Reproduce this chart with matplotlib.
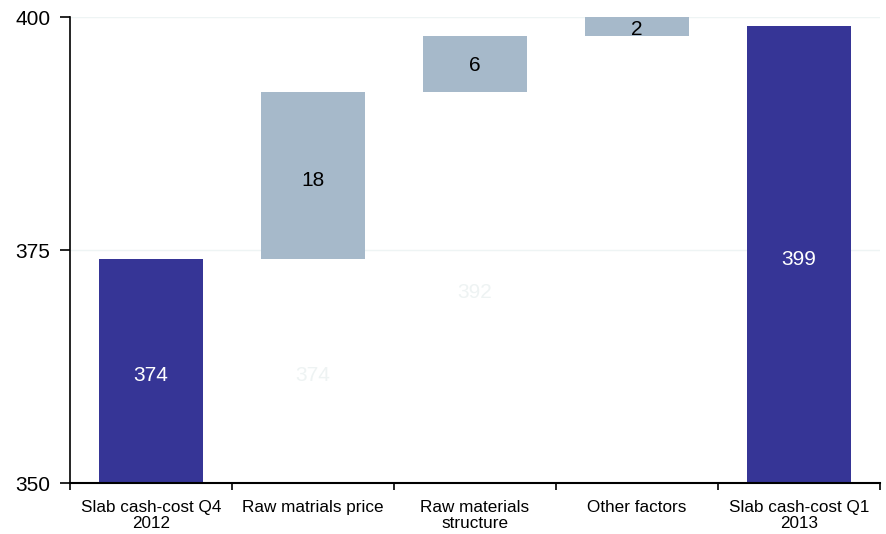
import matplotlib
matplotlib.use("Agg")
import matplotlib.pyplot as plt
import numpy as np

plt.rcParams['font.family'] = ['Liberation Sans', 'DejaVu Sans']

categories = ["Slab cash-cost Q4\n2012", "Raw matrials price", "Raw materials\nstructure",
              "Other factors", "Slab cash-cost Q1\n2013"]
bases = [350, 374, 392, 398, 350]
heights = [24, 18, 6, 2, 49]
labels = ["374", "18", "6", "2", "399"]
hidden_labels = {1: "374", 2: "392"}
kinds = ["total", "delta", "delta", "delta", "total"]

fig = plt.figure(figsize=(8.86, 5.34), dpi=100)
ax = fig.add_axes([0.079, 0.0955, 0.914, 0.8725])

x = np.arange(len(categories))
colors = ["#363596" if k == "total" else "#a6b9ca" for k in kinds]
ax.bar(x, heights, bottom=bases, width=0.64, color=colors, zorder=2)

ax.set_ylim(350, 400)
ax.set_xlim(-0.5, len(categories) - 0.5)
ax.set_yticks([350, 375, 400])
for yv in [375, 400]:
    ax.axhline(yv, color="#eef4f4", lw=1, zorder=1)

for i, (b, h, lab, k) in enumerate(zip(bases, heights, labels, kinds)):
    col = "white" if k == "total" else "black"
    ymid = b + h / 2
    if i == 3:
        ymid = 398.9
    dy = 0 if i in (2, 3) else -2
    ax.annotate(lab, (x[i], ymid), xytext=(0, dy), textcoords="offset points",
                ha="center", va="center_baseline", fontsize=15, color=col, zorder=3)
for i, lab in hidden_labels.items():
    ax.annotate(lab, (x[i], (350 + bases[i]) / 2), xytext=(0, -2),
                textcoords="offset points", ha="center", va="center_baseline",
                fontsize=15, color="#eef3f3", zorder=1)

ax.set_xticks(x)
ax.set_xticklabels(categories, fontsize=12.3, linespacing=1.12)
ax.tick_params(axis="x", length=0, pad=12)
ax.set_xticks(np.arange(-0.5, len(categories)), minor=True)
ax.tick_params(axis="x", which="minor", length=5, width=1.2, direction="out")
ax.tick_params(axis="y", length=7, width=1.2, labelsize=15, direction="out", pad=7)

for s in ["top", "right"]:
    ax.spines[s].set_visible(False)
ax.spines["left"].set_linewidth(1.2)
ax.spines["bottom"].set_linewidth(1.5)

fig.savefig("out.png", dpi=100)
